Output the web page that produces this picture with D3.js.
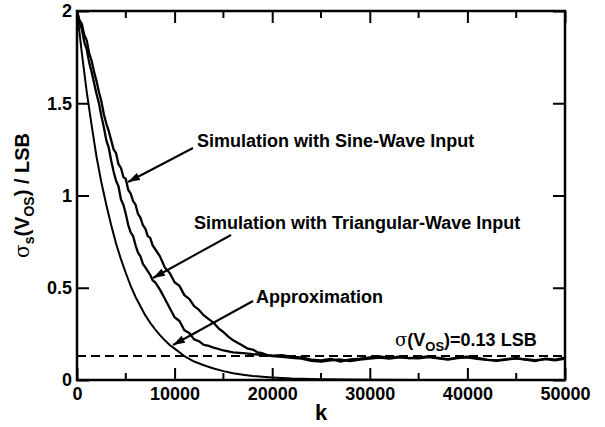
<!DOCTYPE html>
<html>
<head>
<meta charset="utf-8">
<script src="https://cdn.jsdelivr.net/npm/d3@7"></script>
<style>
  body { margin: 0; background: #fff; }
  svg { font-family: "Liberation Sans", Arial, sans-serif; font-weight: bold; }
</style>
</head>
<body>
<div id="chart-area"></div>
<script>
// data
var kApprox = [0, 500, 1000, 1500, 2000, 2500, 3000, 3500, 4000, 4500, 5000, 5500, 6000, 6500, 7000, 7500, 8000, 8500, 9000, 9500,
  10000, 11000, 12000, 13000, 14000, 15000, 16000, 17000, 18000, 19000, 20000, 22000, 25000, 30000, 35000, 50000]
var vApprox = [2.0, 1.77, 1.56, 1.38, 1.21, 1.07, 0.95, 0.84, 0.74, 0.655, 0.58, 0.51, 0.45, 0.40, 0.35, 0.31, 0.275, 0.243, 0.215, 0.19,
  0.17, 0.13, 0.10, 0.08, 0.062, 0.048, 0.037, 0.029, 0.022, 0.018, 0.014, 0.008, 0.004, 0.001, 0, 0]

var kSine = [0, 250, 500, 750, 1000, 1250, 1500, 1750, 2000, 2250, 2500, 2750, 3000, 3250, 3500, 3750, 4000, 4250, 4500, 4750,
  5000, 5250, 5500, 5750, 6000, 6250, 6500, 6750, 7000, 7250, 7500, 7750, 8000, 8500, 9000, 9500, 10000, 10500, 11000, 11500,
  12000, 12500, 13000, 13500, 14000, 14500, 15000, 15500, 16000, 16500, 17000, 17500, 18000, 18500, 19000, 19500, 20000,
  21000, 22000, 23000, 24000, 25000, 26000, 27000, 28000, 29000, 30000, 31000, 32000, 33000, 34000, 35000, 36000, 37000,
  38000, 39000, 40000, 41000, 42000, 43000, 44000, 45000, 46000, 47000, 48000, 49000, 50000]
var vSine = [2.0, 1.95, 1.93, 1.87, 1.84, 1.77, 1.73, 1.67, 1.62, 1.56, 1.51, 1.44, 1.39, 1.35, 1.30, 1.25, 1.23, 1.17, 1.15, 1.10,
  1.09, 1.03, 1.01, 0.97, 0.95, 0.90, 0.88, 0.84, 0.82, 0.78, 0.77, 0.73, 0.71, 0.67, 0.61, 0.58, 0.53, 0.51, 0.46, 0.44,
  0.40, 0.38, 0.35, 0.33, 0.31, 0.28, 0.26, 0.235, 0.215, 0.20, 0.185, 0.17, 0.165, 0.15, 0.145, 0.135, 0.132,
  0.135, 0.125, 0.122, 0.11, 0.106, 0.114, 0.10, 0.112, 0.116, 0.122, 0.128, 0.12, 0.127, 0.118, 0.123, 0.128, 0.12,
  0.113, 0.121, 0.126, 0.12, 0.111, 0.104, 0.111, 0.117, 0.11, 0.103, 0.116, 0.11, 0.121]

var kTri = [0, 250, 500, 750, 1000, 1250, 1500, 1750, 2000, 2250, 2500, 2750, 3000, 3250, 3500, 3750, 4000, 4250, 4500, 4750,
  5000, 5250, 5500, 5750, 6000, 6250, 6500, 6750, 7000, 7250, 7500, 7750, 8000, 8500, 9000, 9500, 10000, 10500, 11000, 11500,
  12000, 12500, 13000, 13500, 14000, 14500, 15000, 15500, 16000, 17000, 18000, 19000, 20000,
  21000, 22000, 23000, 24000, 25000, 26000, 27000, 28000, 29000, 30000, 31000, 32000, 33000, 34000, 35000, 36000, 37000,
  38000, 39000, 40000, 41000, 42000, 43000, 44000, 45000, 46000, 47000, 48000, 49000, 50000]
var vTri = [2.0, 1.94, 1.90, 1.83, 1.79, 1.72, 1.67, 1.61, 1.55, 1.50, 1.43, 1.37, 1.30, 1.26, 1.19, 1.13, 1.08, 1.05, 0.98, 0.95,
  0.90, 0.84, 0.80, 0.78, 0.73, 0.69, 0.67, 0.63, 0.61, 0.59, 0.57, 0.54, 0.53, 0.49, 0.44, 0.39, 0.34, 0.32, 0.27, 0.255,
  0.22, 0.21, 0.19, 0.185, 0.175, 0.168, 0.16, 0.155, 0.15, 0.146, 0.14, 0.136, 0.13,
  0.126, 0.12, 0.116, 0.104, 0.10, 0.107, 0.111, 0.103, 0.11, 0.116, 0.121, 0.116, 0.123, 0.119, 0.117, 0.124, 0.117,
  0.111, 0.119, 0.123, 0.115, 0.109, 0.106, 0.113, 0.119, 0.111, 0.107, 0.113, 0.107, 0.116]

var xTicks = [0, 10000, 20000, 30000, 40000, 50000]
var xMinor = [5000, 15000, 25000, 35000, 45000]
var yTicks = [0, 0.5, 1, 1.5, 2]
var sigmaLevel = 0.13

var m = {l: 77, t: 11, r: 40, b: 47}
var cw = 605
var ch = 427
var w = cw - m.l - m.r
var h = ch - m.t - m.b

var svg = d3.select("#chart-area").append("svg")
    .attr("width", cw)
    .attr("height", ch)

var defs = svg.append("defs")
defs.append("marker")
    .attr("id", "arrow")
    .attr("viewBox", "0 0 12 8")
    .attr("refX", 12)
    .attr("refY", 4)
    .attr("markerWidth", 12)
    .attr("markerHeight", 8)
    .attr("markerUnits", "userSpaceOnUse")
    .attr("orient", "auto")
  .append("path")
    .attr("d", "M0,0 L12,4 L0,8 Z")
    .attr("fill", "#000")

var g = svg.append("g").attr("transform", "translate(" + m.l + ", " + m.t + ")")

var x = d3.scaleLinear().domain([0, 50000]).range([0, w])
var y = d3.scaleLinear().domain([0, 2]).range([h, 0])

// axes, ticks pointing inwards
var bottomAxis = d3.axisBottom(x).tickValues(xTicks).tickSize(-12).tickPadding(7).tickFormat(d3.format("d"))
var topAxis = d3.axisTop(x).tickValues(xTicks).tickSize(-12).tickFormat("")
var leftAxis = d3.axisLeft(y).tickValues(yTicks).tickSize(-12).tickPadding(5).tickFormat(d3.format("~g"))
var rightAxis = d3.axisRight(y).tickValues(yTicks).tickSize(-12).tickFormat("")

function styleAxis(sel) {
    sel.select(".domain").remove()
    sel.selectAll("line").attr("stroke", "#000").attr("stroke-width", 2)
    sel.selectAll("text").attr("fill", "#000").attr("font-size", "18px").attr("font-weight", "bold")
        .attr("font-family", "Liberation Sans, Arial, sans-serif")
}

g.append("g").attr("transform", "translate(0," + h + ")").call(bottomAxis).call(styleAxis)
g.append("g").call(topAxis).call(styleAxis)
g.append("g").call(leftAxis).call(styleAxis)
g.append("g").attr("transform", "translate(" + w + ",0)").call(rightAxis).call(styleAxis)

// minor x ticks
g.selectAll(".minor-b").data(xMinor).enter().append("line")
    .attr("x1", d => x(d)).attr("x2", d => x(d))
    .attr("y1", h).attr("y2", h - 7)
    .attr("stroke", "#000").attr("stroke-width", 2)
g.selectAll(".minor-t").data(xMinor).enter().append("line")
    .attr("x1", d => x(d)).attr("x2", d => x(d))
    .attr("y1", 0).attr("y2", 7)
    .attr("stroke", "#000").attr("stroke-width", 2)

// dashed sigma level
g.append("line")
    .attr("x1", x(0)).attr("x2", x(50000))
    .attr("y1", y(sigmaLevel)).attr("y2", y(sigmaLevel))
    .attr("stroke", "#000").attr("stroke-width", 2)
    .attr("stroke-dasharray", "9,5")

var line = d3.line().x(d => x(d[0])).y(d => y(d[1]))

function drawSeries(ks, vs, sw) {
    g.append("path")
        .datum(d3.zip(ks, vs))
        .attr("d", line)
        .attr("fill", "none")
        .attr("stroke", "#000")
        .attr("stroke-width", sw)
        .attr("stroke-linejoin", "round")
}

drawSeries(kApprox, vApprox, 2)
drawSeries(kTri, vTri, 2.3)
drawSeries(kSine, vSine, 2.3)

// frame
g.append("rect")
    .attr("x", 0).attr("y", 0).attr("width", w).attr("height", h)
    .attr("fill", "none").attr("stroke", "#000").attr("stroke-width", 2.5)

// annotations
var notes = [
    {text: "Simulation with Sine-Wave Input", tx: 197, ty: 147, from: [193, 148], to: [128, 182]},
    {text: "Simulation with Triangular-Wave Input", tx: 194, ty: 229, from: [231, 235], to: [153, 278]},
    {text: "Approximation", tx: 256, ty: 303, from: [253, 301], to: [173, 345]}
]
notes.forEach(n => {
    svg.append("text")
        .attr("x", n.tx).attr("y", n.ty)
        .attr("font-size", "18px")
        .text(n.text)
    svg.append("line")
        .attr("x1", n.from[0]).attr("y1", n.from[1])
        .attr("x2", n.to[0]).attr("y2", n.to[1])
        .attr("stroke", "#000").attr("stroke-width", 2)
        .attr("marker-end", "url(#arrow)")
})

var sig = svg.append("text")
    .attr("x", 395).attr("y", 346)
    .attr("font-size", "18px")
sig.append("tspan").attr("font-weight", "normal").attr("font-family", "DejaVu Serif, serif").text("σ")
sig.append("tspan").text("(V")
sig.append("tspan").attr("font-size", "13px").attr("dy", 5).text("OS")
sig.append("tspan").attr("dy", -5).text(")=0.13 LSB")

// axis labels
svg.append("text")
    .attr("x", m.l + w / 2).attr("y", 420)
    .attr("text-anchor", "middle")
    .attr("font-size", "22px")
    .text("k")

var yl = svg.append("text")
    .attr("transform", "translate(29," + (m.t + h / 2) + ") rotate(-90)")
    .attr("text-anchor", "middle")
    .attr("font-size", "20px")
yl.append("tspan").attr("font-weight", "normal").attr("font-family", "DejaVu Serif, serif").text("σ")
yl.append("tspan").attr("font-size", "14px").attr("dy", 5).text("s")
yl.append("tspan").attr("dy", -5).text("(V")
yl.append("tspan").attr("font-size", "14px").attr("dy", 5).text("OS")
yl.append("tspan").attr("dy", -5).text(") / LSB")
</script>
</body>
</html>
